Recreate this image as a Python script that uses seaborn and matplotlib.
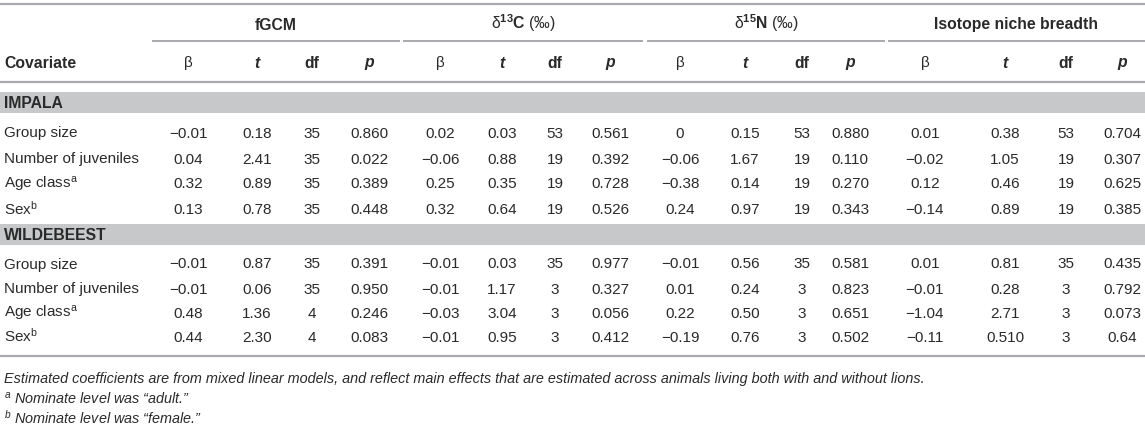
import seaborn as sns
import matplotlib.pyplot as plt

# Table content
covariates = ["Group size", "Number of juveniles", "Age class", "Sex"]
cov_notes = ["", "", "a", "b"]
groups = ["IMPALA", "WILDEBEEST"]
measures = ["fGCM", r"$\mathrm{\delta}^{\mathbf{13}}\mathbf{C}$", r"$\mathrm{\delta}^{\mathbf{15}}\mathbf{N}$",
            "Isotope niche breadth"]
measure_units = ["", " (‰)", " (‰)", ""]
stats = ["β", "t", "df", "p"]

# one inner list per measure (fGCM, d13C, d15N, niche breadth), rows follow covariates
impala_beta = [["-0.01", "0.04", "0.32", "0.13"], ["0.02", "-0.06", "0.25", "0.32"],
               ["0", "-0.06", "-0.38", "0.24"], ["0.01", "-0.02", "0.12", "-0.14"]]
impala_t = [["0.18", "2.41", "0.89", "0.78"], ["0.03", "0.88", "0.35", "0.64"],
            ["0.15", "1.67", "0.14", "0.97"], ["0.38", "1.05", "0.46", "0.89"]]
impala_df = [["35", "35", "35", "35"], ["53", "19", "19", "19"],
             ["53", "19", "19", "19"], ["53", "19", "19", "19"]]
impala_p = [["0.860", "0.022", "0.389", "0.448"], ["0.561", "0.392", "0.728", "0.526"],
            ["0.880", "0.110", "0.270", "0.343"], ["0.704", "0.307", "0.625", "0.385"]]

wild_beta = [["-0.01", "-0.01", "0.48", "0.44"], ["-0.01", "-0.01", "-0.03", "-0.01"],
             ["-0.01", "0.01", "0.22", "-0.19"], ["0.01", "-0.01", "-1.04", "-0.11"]]
wild_t = [["0.87", "0.06", "1.36", "2.30"], ["0.03", "1.17", "3.04", "0.95"],
          ["0.56", "0.24", "0.50", "0.76"], ["0.81", "0.28", "2.71", "0.510"]]
wild_df = [["35", "35", "4", "4"], ["35", "3", "3", "3"],
           ["35", "3", "3", "3"], ["35", "3", "3", "3"]]
wild_p = [["0.391", "0.950", "0.246", "0.083"], ["0.977", "0.327", "0.056", "0.412"],
          ["0.581", "0.823", "0.651", "0.502"], ["0.435", "0.792", "0.073", "0.64"]]

footnote = ("Estimated coefficients are from mixed linear models, and reflect main effects "
            "that are estimated across animals living both with and without lions.")
notes = [("a", "Nominate level was “adult.”"), ("b", "Nominate level was “female.”")]

sns.set_theme(style="white")
plt.rcParams['font.family'] = ['Liberation Sans', 'DejaVu Sans']
plt.rcParams['mathtext.fontset'] = 'custom'
plt.rcParams['mathtext.rm'] = 'Liberation Sans'
plt.rcParams['mathtext.it'] = 'Liberation Sans:italic'
plt.rcParams['mathtext.bf'] = 'Liberation Sans:bold'

ink = '#2a2a2a'
rule = '#a7a9ac'
band = '#c7c8ca'
fs = 11

fig = plt.figure(figsize=(11.45, 4.29), dpi=100)
ax = fig.add_axes([0, 0, 1, 1])
ax.set_xlim(0, 1145)
ax.set_ylim(429, 0)
ax.axis('off')

# column layout (pixels)
col_x = [[188, 257, 312, 369], [440, 502, 555, 610], [680, 745, 802, 850], [925, 1005, 1066, 1122]]
span_x = [(152, 400), (403, 643), (647, 885), (888, 1145)]
y_group, y_under, y_head, y_rule = 24, 41, 62, 82
band_y = [(92, 113), (224, 245)]
row_y = [[132, 158, 183, 209], [263, 288, 312, 336]]
y_bottom = 356
foot_y = [377, 398, 418]
base = 5.5  # centre -> baseline


def put(x, y, s, ha='center', **kw):
    ax.text(x, y + base, s, ha=ha, va='baseline', color=ink, fontsize=kw.pop('size', fs), **kw)


# rules
ax.plot([0, 1145], [4, 4], color=rule, lw=1.6, solid_capstyle='butt')
for x0, x1 in span_x:
    ax.plot([x0, x1], [y_under, y_under], color=rule, lw=1.4, solid_capstyle='butt')
ax.plot([0, 1145], [y_rule, y_rule], color=rule, lw=1.6, solid_capstyle='butt')
ax.plot([0, 1145], [y_bottom, y_bottom], color=rule, lw=1.6, solid_capstyle='butt')

# header
for (x0, x1), name, unit in zip(span_x, measures, measure_units):
    label = name + (r"$\mathrm{\ (‰)}$" if unit else "")
    put((x0 + x1) / 2, y_group, label, fontweight='bold', size=11.3)
put(4, y_head, "Covariate", ha='left', fontweight='bold', size=11.3)
for xs in col_x:
    for x, s in zip(xs, stats):
        if s == "β":
            put(x, y_head, s)
        elif s == "df":
            put(x, y_head, s, fontweight='bold', size=11.3)
        else:
            put(x, y_head, s, fontweight='bold', fontstyle='italic', size=11.3)

# body
tables = [(impala_beta, impala_t, impala_df, impala_p), (wild_beta, wild_t, wild_df, wild_p)]
for g, name in enumerate(groups):
    y0, y1 = band_y[g]
    ax.axhspan(y0, y1, color=band, lw=0)
    put(4, (y0 + y1) / 2, name, ha='left', fontweight='bold', size=11.3)
    for r, (cov, note) in enumerate(zip(covariates, cov_notes)):
        y = row_y[g][r]
        lab = cov + (r"$^{\mathrm{%s}}$" % note if note else "")
        put(4, y, lab, ha='left')
        for m in range(4):
            for k, arr in enumerate(tables[g]):
                put(col_x[m][k], y, arr[m][r].replace("-", "−"))

# footnotes
put(4, foot_y[0], footnote, ha='left', size=10.4, fontstyle='italic')
for (mark, txt), y in zip(notes, foot_y[1:]):
    put(4, y, r"$^{\mathit{%s}}$ " % mark + txt, ha='left', size=10.4, fontstyle='italic')

fig.savefig("out.png", dpi=100)
